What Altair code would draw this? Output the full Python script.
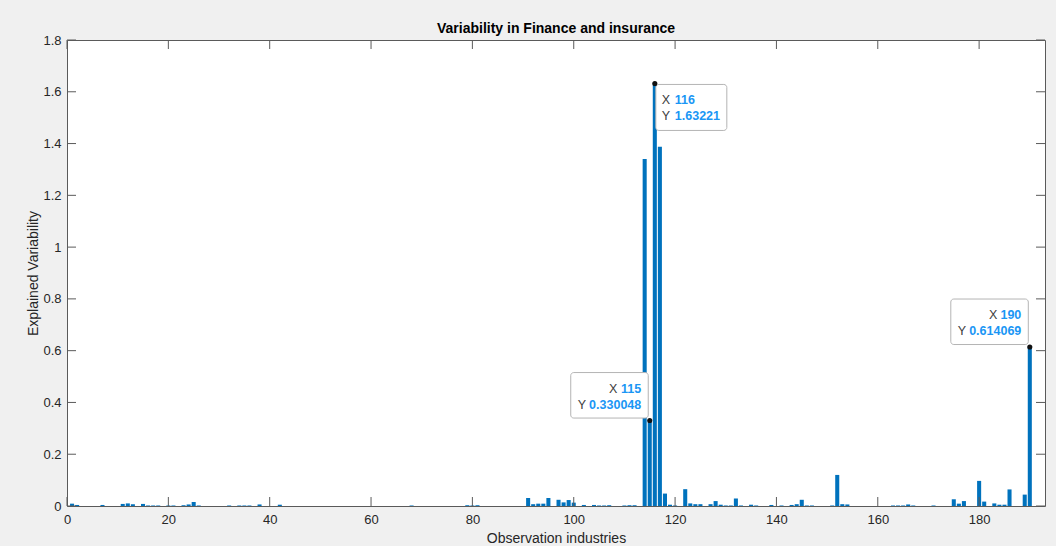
import altair as alt
import pandas as pd

# ---- data ----
bar_index = [1, 2, 7, 11, 12, 13, 15, 16, 17, 18, 20, 21, 23, 24, 25, 26, 32, 34, 35, 36,
             38, 42, 68, 79, 80, 81, 91, 92, 93, 94, 95, 97, 98, 99, 100, 102, 104, 105,
             106, 107, 110, 111, 112, 114, 115, 116, 117, 118, 119, 120, 122, 123, 124,
             125, 127, 128, 129, 130, 131, 132, 133, 135, 136, 139, 141, 143, 144, 145,
             146, 147, 151, 152, 153, 154, 163, 164, 165, 166, 167, 171, 175, 176, 177,
             180, 181, 183, 184, 185, 186, 189, 190]
bar_value = [0.009, 0.004, 0.004, 0.008, 0.010, 0.007, 0.008, 0.002, 0.002, 0.002, 0.002,
             0.002, 0.003, 0.006, 0.015, 0.002, 0.002, 0.002, 0.002, 0.002, 0.006, 0.005,
             0.002, 0.003, 0.002, 0.003, 0.031, 0.007, 0.009, 0.009, 0.031, 0.024, 0.014,
             0.023, 0.013, 0.004, 0.004, 0.002, 0.002, 0.003, 0.002, 0.003, 0.003, 1.340,
             0.330048, 1.63221, 1.388, 0.048, 0.005, 0.002, 0.065, 0.010, 0.007, 0.007,
             0.007, 0.019, 0.005, 0.002, 0.002, 0.029, 0.002, 0.005, 0.002, 0.004, 0.002,
             0.004, 0.007, 0.024, 0.002, 0.002, 0.002, 0.120, 0.007, 0.006, 0.002, 0.002,
             0.002, 0.006, 0.002, 0.002, 0.026, 0.009, 0.019, 0.097, 0.017, 0.010, 0.005,
             0.005, 0.064, 0.044, 0.614069]

x_ticks = [0, 20, 40, 60, 80, 100, 120, 140, 160, 180]
y_ticks = [0, 0.2, 0.4, 0.6, 0.8, 1.0, 1.2, 1.4, 1.6, 1.8]

tip_x = [116, 115, 190]
tip_y = [1.63221, 0.330048, 0.614069]
tip_xs = ["116", "115", "190"]
tip_ys = ["1.63221", "0.330048", "0.614069"]
tip_side = ["right", "left", "left"]

title = "Variability in Finance and insurance"
x_title = "Observation industries"
y_title = "Explained Variability"

# ---- layout ----
W, H = 978, 466
FONT = "Liberation Sans"
BLUE = "#0072BD"
AX = "#5a5a5a"
TXT = "#262626"

xs = alt.Scale(domain=[0, 193], nice=False, zero=False)
ys = alt.Scale(domain=[0, 1.8], nice=False, zero=False)

ax_x = alt.Axis(values=x_ticks, ticks=False, domain=False, grid=False,
                labelFont=FONT, labelFontSize=13, labelColor=TXT,
                labelPadding=7, titleFont=FONT, titleFontSize=14,
                titleFontWeight="normal", titleColor=TXT,
                titleBaseline="middle", titleY=32, labelFlush=False)
ax_y = alt.Axis(values=y_ticks, ticks=False, domain=False, grid=False,
                format="~g", labelFont=FONT, labelFontSize=13,
                labelColor=TXT, labelPadding=6, titleFont=FONT,
                titleFontSize=14, titleFontWeight="normal",
                titleColor=TXT, titleBaseline="middle", titleX=-34,
                labelFlush=False)


def X(field):
    return alt.X(field, scale=xs, axis=ax_x, title=x_title)


def Y(field):
    return alt.Y(field, scale=ys, axis=ax_y, title=y_title)


bars_df = pd.DataFrame({"i": bar_index, "v": bar_value})

bars = alt.Chart(bars_df).transform_calculate(
    x0="datum.i - 0.4", x1="datum.i + 0.4"
).mark_rect(color=BLUE).encode(
    x=X("x0:Q"), x2="x1:Q", y=Y("v:Q"), y2=alt.datum(0),
)

xt_df = pd.DataFrame({"t": x_ticks})
yt_df = pd.DataFrame({"t": y_ticks})

tick_bottom = alt.Chart(xt_df).mark_rule(color=AX, strokeWidth=1).encode(
    x=X("t:Q"), y=alt.value(H), y2=alt.value(H - 9))
tick_top = alt.Chart(xt_df).mark_rule(color=AX, strokeWidth=1).encode(
    x=X("t:Q"), y=alt.value(0), y2=alt.value(9))
tick_left = alt.Chart(yt_df).mark_rule(color=AX, strokeWidth=1).encode(
    y=Y("t:Q"), x=alt.value(0), x2=alt.value(9))
tick_right = alt.Chart(yt_df).mark_rule(color=AX, strokeWidth=1).encode(
    y=Y("t:Q"), x=alt.value(W - 9), x2=alt.value(W))

layers = [bars, tick_bottom, tick_top, tick_left, tick_right]


def text_w(s, size=12.5):
    w = 0.0
    for ch in s:
        w += 0.278 * size if ch == "." else 0.556 * size
    return w


for tx, ty, sx, sy, side in zip(tip_x, tip_y, tip_xs, tip_ys, tip_side):
    d = alt.Data(values=[{"x": tx, "y": ty, "xs": sx, "ys": sy,
                          "lx": "X", "ly": "Y"}])
    ex = X("x:Q")
    ey = Y("y:Q")
    if side == "right":
        box = alt.Chart(d).mark_rect(fill="white", stroke="#b4b4b4", strokeWidth=1,
                                     cornerRadius=3, xOffset=1, x2Offset=72,
                                     yOffset=1, y2Offset=47)
        specs = [("lx", 7, 17, "left", "normal", "#404040"),
                 ("xs", 20, 17, "left", "bold", "#1a96f5"),
                 ("ly", 7, 33, "left", "normal", "#404040"),
                 ("ys", 20, 33, "left", "bold", "#1a96f5")]
    else:
        box = alt.Chart(d).mark_rect(fill="white", stroke="#b4b4b4", strokeWidth=1,
                                     cornerRadius=3, xOffset=-79, x2Offset=-1.5,
                                     yOffset=-48, y2Offset=-2.5)
        specs = [("lx", -8.5 - text_w(sx) - 3, -32, "right", "normal", "#404040"),
                 ("xs", -8.5, -32, "right", "bold", "#1a96f5"),
                 ("ly", -8.5 - text_w(sy) - 3, -16, "right", "normal", "#404040"),
                 ("ys", -8.5, -16, "right", "bold", "#1a96f5")]
    layers.append(box.encode(x=ex, x2="x:Q", y=ey, y2="y:Q"))
    for field, dx, dy, al, fw, col in specs:
        layers.append(alt.Chart(d).mark_text(
            align=al, baseline="middle", dx=dx, dy=dy, font=FONT, fontSize=12.5,
            fontWeight=fw, color=col).encode(x=ex, y=ey, text=alt.Text(f"{field}:N")))
    layers.append(alt.Chart(d).mark_point(filled=True, shape="circle", size=26,
                                          color="#111111", opacity=1).encode(x=ex, y=ey))

chart = alt.layer(*layers).properties(
    width=W, height=H,
    title=alt.TitleParams(title, font=FONT, fontSize=14, fontWeight="bold",
                          color="#000000", anchor="middle", offset=-2),
    autosize=alt.AutoSizeParams(type="none"),
    padding={"left": 67, "top": 40, "right": 11, "bottom": 40},
    background="#f0f0f0",
).configure_view(fill="white", stroke=AX, strokeWidth=1)

chart.save("out.html", embed_options={"renderer": "svg", "actions": False})
